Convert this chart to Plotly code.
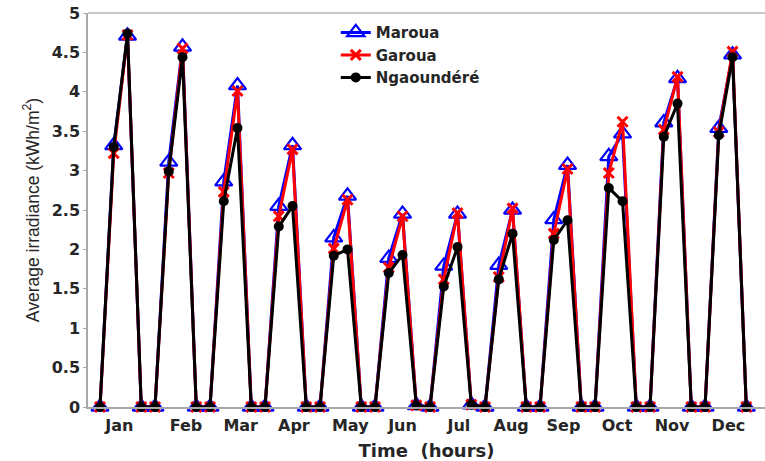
import plotly.graph_objects as go

# Two daytime readings per month, bracketed by zero (night) readings
months = ["Jan", "Feb", "Mar", "Apr", "May", "Jun",
          "Jul", "Aug", "Sep", "Oct", "Nov", "Dec"]

maroua_a = [3.32, 3.11, 2.86, 2.55, 2.15, 1.89, 1.79, 1.80, 2.38, 3.18, 3.61, 3.54]
maroua_b = [4.71, 4.57, 4.08, 3.32, 2.68, 2.45, 2.45, 2.50, 3.07, 3.47, 4.17, 4.47]
garoua_a = [3.22, 2.97, 2.73, 2.42, 2.01, 1.77, 1.62, 1.65, 2.20, 2.97, 3.52, 3.49]
garoua_b = [4.72, 4.55, 4.01, 3.27, 2.63, 2.42, 2.46, 2.52, 3.02, 3.62, 4.19, 4.51]
ngaou_a = [3.30, 2.99, 2.61, 2.29, 1.92, 1.70, 1.53, 1.62, 2.12, 2.78, 3.43, 3.45]
ngaou_b = [4.74, 4.44, 3.54, 2.55, 2.00, 1.93, 2.03, 2.20, 2.37, 2.61, 3.85, 4.44]

# night-time end values (small residuals in Jun and Jul)
night_end = [0, 0, 0, 0, 0, 0.02, 0.03, 0, 0, 0, 0, 0]

# month label positions along the hourly index axis
tick_pos = [1.4, 6.25, 10.23, 14.1, 18.2, 22.0, 26.1, 29.9, 33.7, 37.6, 41.6, 45.7]


def build(a_vals, b_vals):
    xs, ys = [], []
    for m in range(len(months)):
        xs += [4 * m, 4 * m + 1, 4 * m + 2, 4 * m + 3]
        ys += [0, a_vals[m], b_vals[m], night_end[m]]
    return xs, ys


fig = go.Figure()

series = [
    ("Maroua", maroua_a, maroua_b, "#0000ff",
     dict(symbol="triangle-up-open", size=15, line=dict(width=2.2, color="#0000ff"))),
    ("Garoua", garoua_a, garoua_b, "#ff0000",
     dict(symbol="x-thin-open", size=10, line=dict(width=3, color="#ff0000"))),
    ("Ngaoundéré", ngaou_a, ngaou_b, "#000000",
     dict(symbol="circle", size=10, color="#000000")),
]

for name, a, b, col, mk in series:
    xs, ys = build(a, b)
    fig.add_trace(go.Scatter(
        x=xs, y=ys, mode="lines+markers", name=name,
        line=dict(color=col, width=3), marker=mk,
        cliponaxis=False,
    ))

axis_gray = "#a8a8a8"
bold_font = "DejaVu Sans, Verdana, sans-serif"
tick_font = dict(family=bold_font, size=16, color="#262626", weight="bold")

fig.update_layout(
    width=765, height=461,
    margin=dict(l=88, r=0, t=13, b=54),
    paper_bgcolor="white", plot_bgcolor="white",
    showlegend=True,
    legend=dict(
        x=0.366, y=0.992, xanchor="left", yanchor="top",
        bgcolor="rgba(255,255,255,0)", borderwidth=0,
        font=dict(family=bold_font, size=15, color="#262626", weight="bold"),
        tracegroupgap=0,
    ),
    xaxis=dict(
        range=[-0.873, 48.36],
        tickmode="array", tickvals=tick_pos, ticktext=months,
        tickfont=tick_font,
        showgrid=False, zeroline=False,
        showline=True, linecolor=axis_gray, linewidth=1.5,
        ticks="", ticklabelstandoff=3,
        title=dict(text="Time  (hours)", standoff=14,
                   font=dict(family=bold_font, size=18,
                             color="#262626", weight="bold")),
    ),
    yaxis=dict(
        range=[0, 5], dtick=0.5,
        tickfont=tick_font,
        showgrid=False, zeroline=False,
        showline=True, linecolor=axis_gray, linewidth=1.5,
        ticks="outside", ticklen=3, tickcolor=axis_gray,
        title=dict(text="Average irradiance (kWh/m<sup>2</sup>)", standoff=8,
                   font=dict(family="Liberation Sans, Arial", size=17.5, color="#262626")),
    ),
    shapes=[dict(type="line", xref="paper", yref="paper", x0=0, x1=1, y0=1, y1=1,
                 line=dict(color="#c8c8c8", width=2))],
)

fig.write_html("out.html")
